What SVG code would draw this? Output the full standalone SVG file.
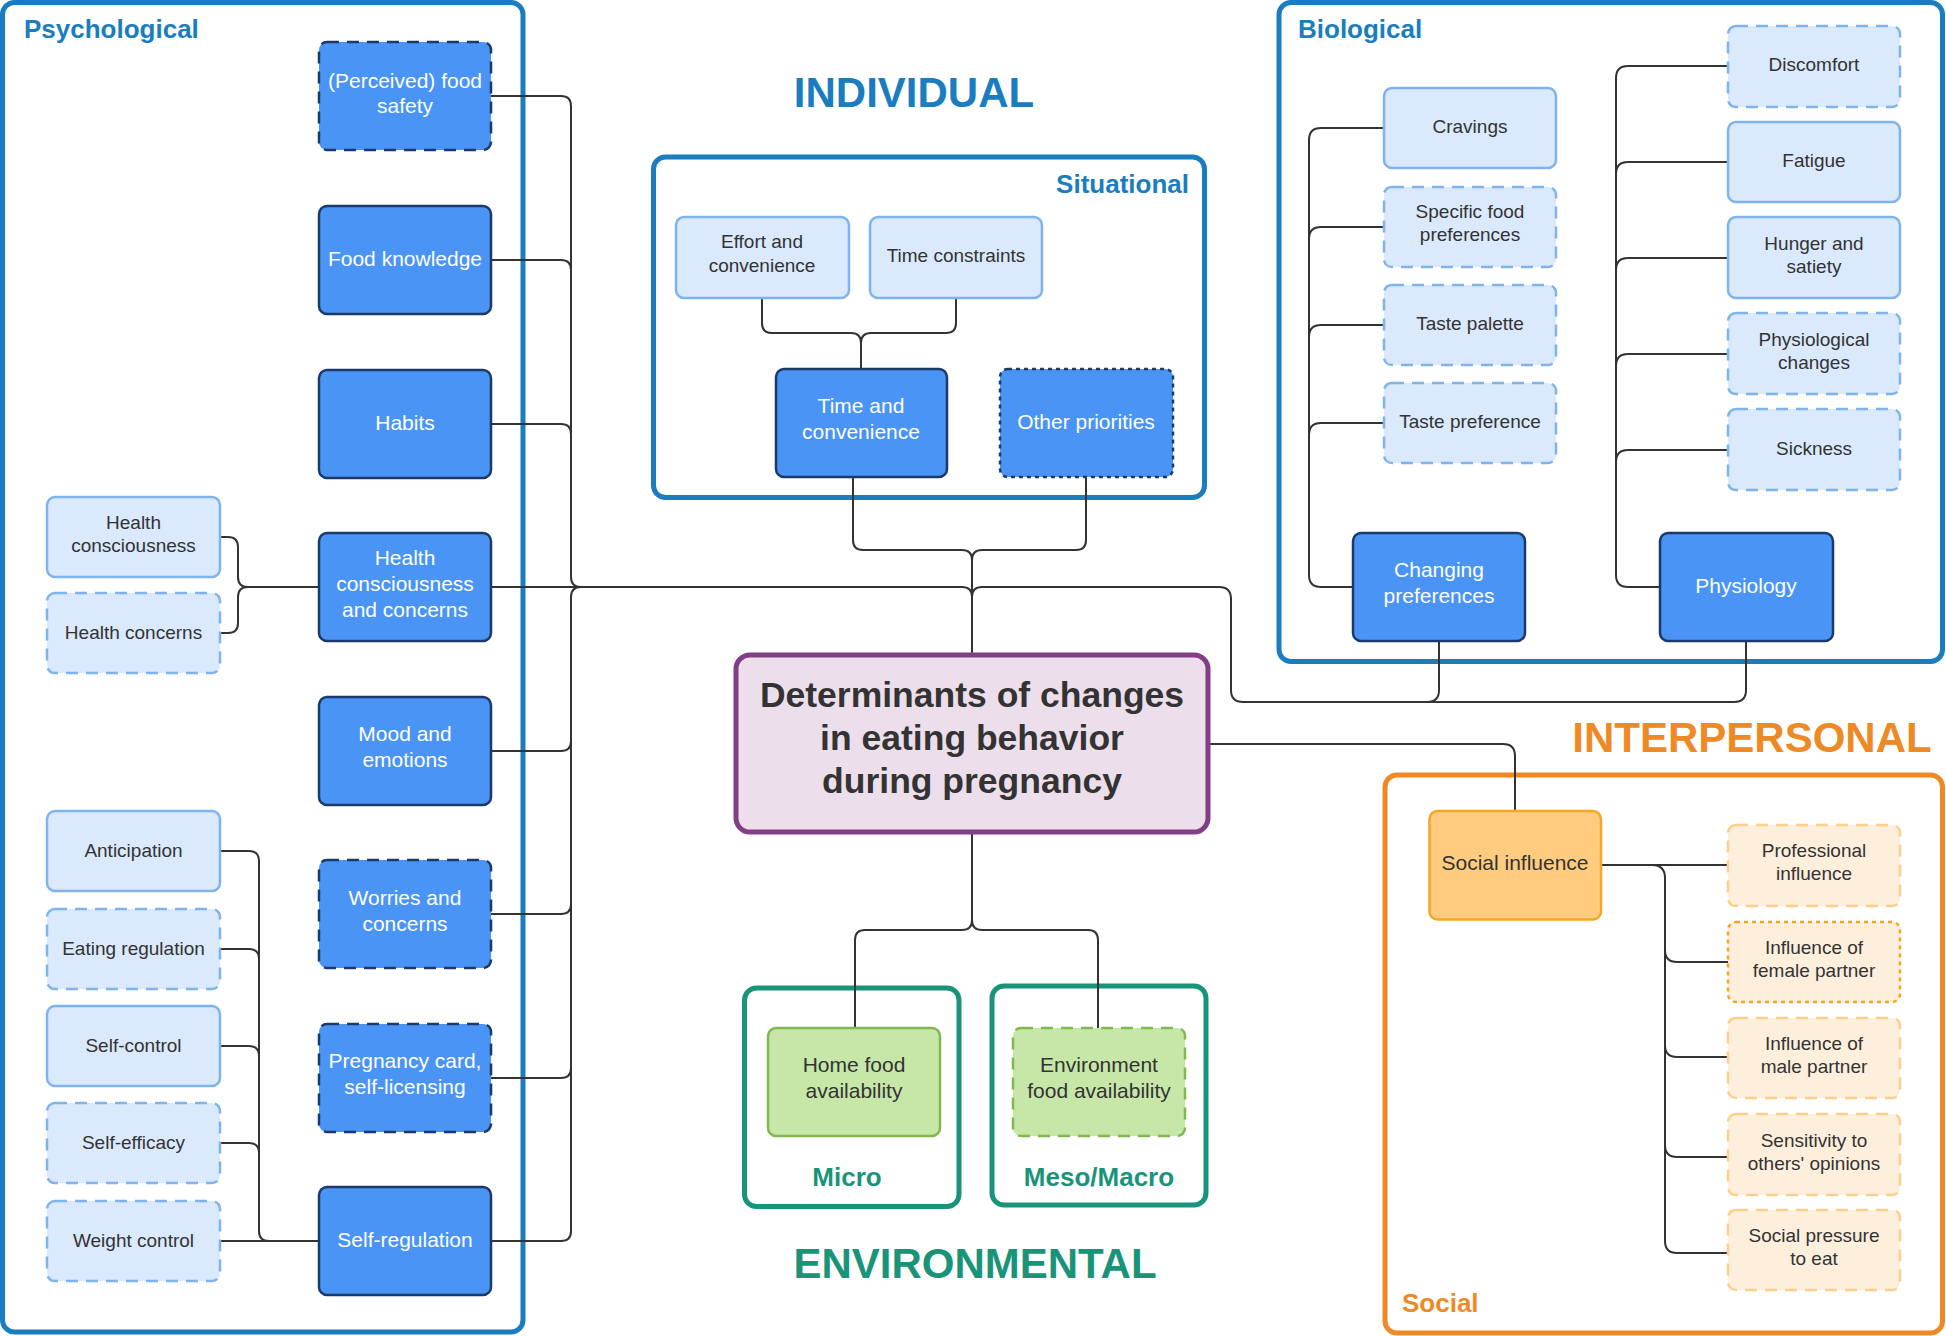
<svg xmlns="http://www.w3.org/2000/svg" width="1946" height="1336" viewBox="0 0 1946 1336">
<style>
text{font-family:"Liberation Sans",Arial,Helvetica,sans-serif;text-anchor:middle}
.conn{fill:none;stroke:#333;stroke-width:2}
.dark{fill:#4a94f5;stroke:#1b3a6b;stroke-width:2.5}
.light{fill:#dae9fc;stroke:#7fb3ec;stroke-width:2.5}
.soc{fill:#ffcc7f;stroke:#f6a623;stroke-width:2.5}
.socl{fill:#fdefdc;stroke:#fccf8a;stroke-width:2.5}
.socd{fill:#fdefdc;stroke:#f8a51e;stroke-width:2.5}
.green{fill:#c6e7a8;stroke:#80b84e;stroke-width:2.5}
.dash{stroke-dasharray:12 8}
.dot{stroke-dasharray:4 4}
.tw{font-size:21px;fill:#fff}
.tk{font-size:21px;fill:#333}
.td{font-size:19px;fill:#333}
.grp{fill:none;stroke-width:5}
.ttl{font-size:26px;font-weight:bold}
.big{font-size:42px;font-weight:bold}
.blue{fill:#1a7dc0}
.org{fill:#ee8a26}
.grn{fill:#1a9479}
</style>

<!-- group containers -->
<g id="containers">
<rect class="grp" x="2.5" y="2.5" width="520.5" height="1329.5" rx="12" stroke="#1a7dc0"/>
<rect class="grp" x="653.5" y="157" width="551" height="340.5" rx="12" stroke="#1a7dc0"/>
<rect class="grp" x="1279" y="2.5" width="663.5" height="659" rx="12" stroke="#1a7dc0"/>
<rect class="grp" x="744.5" y="988" width="214.5" height="218.5" rx="12" stroke="#1a9479"/>
<rect class="grp" x="992" y="986" width="214" height="219" rx="12" stroke="#1a9479"/>
<rect class="grp" x="1385" y="775" width="557.5" height="558" rx="12" stroke="#ee8a26"/>
<text class="ttl blue" x="24" y="38" style="text-anchor:start">Psychological</text>
<text class="ttl blue" x="1298" y="38" style="text-anchor:start">Biological</text>
<text class="ttl blue" x="1189" y="193" style="text-anchor:end">Situational</text>
<text class="ttl grn" x="847" y="1186">Micro</text>
<text class="ttl grn" x="1099" y="1186">Meso/Macro</text>
<text class="ttl org" x="1402" y="1312" style="text-anchor:start">Social</text>
<text class="big blue" x="914" y="107">INDIVIDUAL</text>
<text class="big org" x="1752" y="752">INTERPERSONAL</text>
<text class="big grn" x="975" y="1278">ENVIRONMENTAL</text>
</g>

<!-- connectors -->
<g id="connectors" class="conn">
<!-- psychological left brackets -->
<path d="M220 537 H228 Q238 537 238 547 V577 Q238 587 248 587 H319"/>
<path d="M220 633 H228 Q238 633 238 623 V597 Q238 587 248 587"/>
<path d="M220 851 H249 Q259 851 259 861 V1231 Q259 1241 269 1241 H319"/>
<path d="M220 949 H249 Q259 949 259 959"/>
<path d="M220 1046 H249 Q259 1046 259 1056"/>
<path d="M220 1143 H249 Q259 1143 259 1153"/>
<path d="M220 1241 H269"/>
<!-- psychological trunk -->
<path d="M491 96 H561 Q571 96 571 106 V577 Q571 587 581 587"/>
<path d="M491 260 H561 Q571 260 571 270"/>
<path d="M491 424 H561 Q571 424 571 434"/>
<path d="M491 1241 H561 Q571 1241 571 1231 V597 Q571 587 581 587"/>
<path d="M491 751 H561 Q571 751 571 741"/>
<path d="M491 914 H561 Q571 914 571 904"/>
<path d="M491 1078 H561 Q571 1078 571 1068"/>
<path d="M491 587 H962 Q972 587 972 597"/>
<!-- situational -->
<path d="M762 298 V323 Q762 333 772 333 H851 Q861 333 861 343 V369"/>
<path d="M956 298 V323 Q956 333 946 333 H871 Q861 333 861 343"/>
<path d="M853 477 V540 Q853 550 863 550 H962 Q972 550 972 560 V655"/>
<path d="M1086 477 V540 Q1086 550 1076 550 H982 Q972 550 972 560"/>
<!-- biological -->
<path d="M1384 128 H1321 Q1309 128 1309 140 V575 Q1309 587 1321 587 H1353"/>
<path d="M1384 227 H1321 Q1309 227 1309 239"/>
<path d="M1384 325 H1321 Q1309 325 1309 337"/>
<path d="M1384 423 H1321 Q1309 423 1309 435"/>
<path d="M1728 66 H1628 Q1616 66 1616 78 V575 Q1616 587 1628 587 H1660"/>
<path d="M1728 162 H1628 Q1616 162 1616 174"/>
<path d="M1728 258 H1628 Q1616 258 1616 270"/>
<path d="M1728 354 H1628 Q1616 354 1616 366"/>
<path d="M1728 450 H1628 Q1616 450 1616 462"/>
<path d="M1746 641 V690 Q1746 702 1734 702 H1243 Q1231 702 1231 690 V599 Q1231 587 1219 587 H982 Q972 587 972 597"/>
<path d="M1439 641 V690 Q1439 702 1427 702"/>
<!-- environmental -->
<path d="M972 832 V920 Q972 930 962 930 H865 Q855 930 855 940 V1028"/>
<path d="M972 920 Q972 930 982 930 H1088 Q1098 930 1098 940 V1028"/>
<!-- interpersonal -->
<path d="M1208 744 H1503 Q1515 744 1515 756 V811"/>
<path d="M1601 865 H1728"/>
<path d="M1652 865 Q1665 865 1665 878 V1241 Q1665 1253 1677 1253 H1728"/>
<path d="M1665 950 Q1665 962 1677 962 H1728"/>
<path d="M1665 1045 Q1665 1057 1677 1057 H1728"/>
<path d="M1665 1145 Q1665 1157 1677 1157 H1728"/>
</g>

<!-- central node -->
<g id="center">
<rect x="736" y="655" width="472" height="177" rx="14" fill="#ecdeeb" stroke="#823f86" stroke-width="5"/>
<text x="972" y="707" style="font-size:35.5px;font-weight:bold;fill:#333">Determinants of changes</text>
<text x="972" y="750" style="font-size:35.5px;font-weight:bold;fill:#333">in eating behavior</text>
<text x="972" y="793" style="font-size:35.5px;font-weight:bold;fill:#333">during pregnancy</text>
</g>

<!-- psychological dark nodes -->
<g id="perceived-food-safety"><rect class="dark dash" x="319" y="42" width="172" height="108" rx="8"/><text class="tw" x="405" y="88">(Perceived) food</text><text class="tw" x="405" y="113">safety</text></g>
<g id="food-knowledge"><rect class="dark" x="319" y="206" width="172" height="108" rx="8"/><text class="tw" x="405" y="266">Food knowledge</text></g>
<g id="habits"><rect class="dark" x="319" y="370" width="172" height="108" rx="8"/><text class="tw" x="405" y="430">Habits</text></g>
<g id="health-cc"><rect class="dark" x="319" y="533" width="172" height="108" rx="8"/><text class="tw" x="405" y="565">Health</text><text class="tw" x="405" y="591">consciousness</text><text class="tw" x="405" y="617">and concerns</text></g>
<g id="mood"><rect class="dark" x="319" y="697" width="172" height="108" rx="8"/><text class="tw" x="405" y="741">Mood and</text><text class="tw" x="405" y="767">emotions</text></g>
<g id="worries"><rect class="dark dash" x="319" y="860" width="172" height="108" rx="8"/><text class="tw" x="405" y="905">Worries and</text><text class="tw" x="405" y="931">concerns</text></g>
<g id="pregnancy-card"><rect class="dark dash" x="319" y="1024" width="172" height="108" rx="8"/><text class="tw" x="405" y="1068">Pregnancy card,</text><text class="tw" x="405" y="1094">self-licensing</text></g>
<g id="self-regulation"><rect class="dark" x="319" y="1187" width="172" height="108" rx="8"/><text class="tw" x="405" y="1247">Self-regulation</text></g>

<!-- psychological light nodes -->
<g id="health-consciousness"><rect class="light" x="47" y="497" width="173" height="80" rx="8"/><text class="td" x="133.5" y="529">Health</text><text class="td" x="133.5" y="552">consciousness</text></g>
<g id="health-concerns"><rect class="light dash" x="47" y="593" width="173" height="80" rx="8"/><text class="td" x="133.5" y="639">Health concerns</text></g>
<g id="anticipation"><rect class="light" x="47" y="811" width="173" height="80" rx="8"/><text class="td" x="133.5" y="857">Anticipation</text></g>
<g id="eating-regulation"><rect class="light dash" x="47" y="909" width="173" height="80" rx="8"/><text class="td" x="133.5" y="955">Eating regulation</text></g>
<g id="self-control"><rect class="light" x="47" y="1006" width="173" height="80" rx="8"/><text class="td" x="133.5" y="1052">Self-control</text></g>
<g id="self-efficacy"><rect class="light dash" x="47" y="1103" width="173" height="80" rx="8"/><text class="td" x="133.5" y="1149">Self-efficacy</text></g>
<g id="weight-control"><rect class="light dash" x="47" y="1201" width="173" height="80" rx="8"/><text class="td" x="133.5" y="1247">Weight control</text></g>

<!-- situational -->
<g id="effort"><rect class="light" x="676" y="217" width="173" height="81" rx="8"/><text class="td" x="762" y="248">Effort and</text><text class="td" x="762" y="272">convenience</text></g>
<g id="time-constraints"><rect class="light" x="870" y="217" width="172" height="81" rx="8"/><text class="td" x="956" y="262">Time constraints</text></g>
<g id="time-convenience"><rect class="dark" x="776" y="369" width="171" height="108" rx="8"/><text class="tw" x="861" y="413">Time and</text><text class="tw" x="861" y="439">convenience</text></g>
<g id="other-priorities"><rect class="dark dot" x="1000" y="369" width="173" height="108" rx="8"/><text class="tw" x="1086" y="429">Other priorities</text></g>

<!-- biological -->
<g id="cravings"><rect class="light" x="1384" y="88" width="172" height="80" rx="8"/><text class="td" x="1470" y="133">Cravings</text></g>
<g id="specific-food"><rect class="light dash" x="1384" y="187" width="172" height="80" rx="8"/><text class="td" x="1470" y="218">Specific food</text><text class="td" x="1470" y="241">preferences</text></g>
<g id="taste-palette"><rect class="light dash" x="1384" y="285" width="172" height="80" rx="8"/><text class="td" x="1470" y="330">Taste palette</text></g>
<g id="taste-preference"><rect class="light dash" x="1384" y="383" width="172" height="80" rx="8"/><text class="td" x="1470" y="428">Taste preference</text></g>
<g id="discomfort"><rect class="light dash" x="1728" y="26" width="172" height="81" rx="8"/><text class="td" x="1814" y="71">Discomfort</text></g>
<g id="fatigue"><rect class="light" x="1728" y="122" width="172" height="80" rx="8"/><text class="td" x="1814" y="167">Fatigue</text></g>
<g id="hunger"><rect class="light" x="1728" y="217" width="172" height="81" rx="8"/><text class="td" x="1814" y="250">Hunger and</text><text class="td" x="1814" y="273">satiety</text></g>
<g id="physiological-changes"><rect class="light dash" x="1728" y="313" width="172" height="81" rx="8"/><text class="td" x="1814" y="346">Physiological</text><text class="td" x="1814" y="369">changes</text></g>
<g id="sickness"><rect class="light dash" x="1728" y="409" width="172" height="81" rx="8"/><text class="td" x="1814" y="455">Sickness</text></g>
<g id="changing-preferences"><rect class="dark" x="1353" y="533" width="172" height="108" rx="8"/><text class="tw" x="1439" y="577">Changing</text><text class="tw" x="1439" y="603">preferences</text></g>
<g id="physiology"><rect class="dark" x="1660" y="533" width="173" height="108" rx="8"/><text class="tw" x="1746" y="593">Physiology</text></g>

<!-- environmental -->
<g id="home-food"><rect class="green" x="768" y="1028" width="172" height="108" rx="8"/><text class="tk" x="854" y="1072">Home food</text><text class="tk" x="854" y="1098">availability</text></g>
<g id="environment-food"><rect class="green dash" x="1013" y="1028" width="172" height="108" rx="8"/><text class="tk" x="1099" y="1072">Environment</text><text class="tk" x="1099" y="1098">food availability</text></g>

<!-- social -->
<g id="social-influence"><rect class="soc" x="1429.5" y="811" width="171.5" height="108.5" rx="8"/><text class="tk" x="1515" y="870">Social influence</text></g>
<g id="professional"><rect class="socl dash" x="1728" y="825" width="172" height="81" rx="8"/><text class="td" x="1814" y="857">Professional</text><text class="td" x="1814" y="880">influence</text></g>
<g id="female-partner"><rect class="socd dot" x="1728" y="922" width="172" height="80" rx="8"/><text class="td" x="1814" y="954">Influence of</text><text class="td" x="1814" y="977">female partner</text></g>
<g id="male-partner"><rect class="socl dash" x="1728" y="1018" width="172" height="80" rx="8"/><text class="td" x="1814" y="1050">Influence of</text><text class="td" x="1814" y="1073">male partner</text></g>
<g id="sensitivity"><rect class="socl dash" x="1728" y="1114" width="172" height="81" rx="8"/><text class="td" x="1814" y="1147">Sensitivity to</text><text class="td" x="1814" y="1170">others' opinions</text></g>
<g id="social-pressure"><rect class="socl dash" x="1728" y="1210" width="172" height="80" rx="8"/><text class="td" x="1814" y="1242">Social pressure</text><text class="td" x="1814" y="1265">to eat</text></g>
</svg>
